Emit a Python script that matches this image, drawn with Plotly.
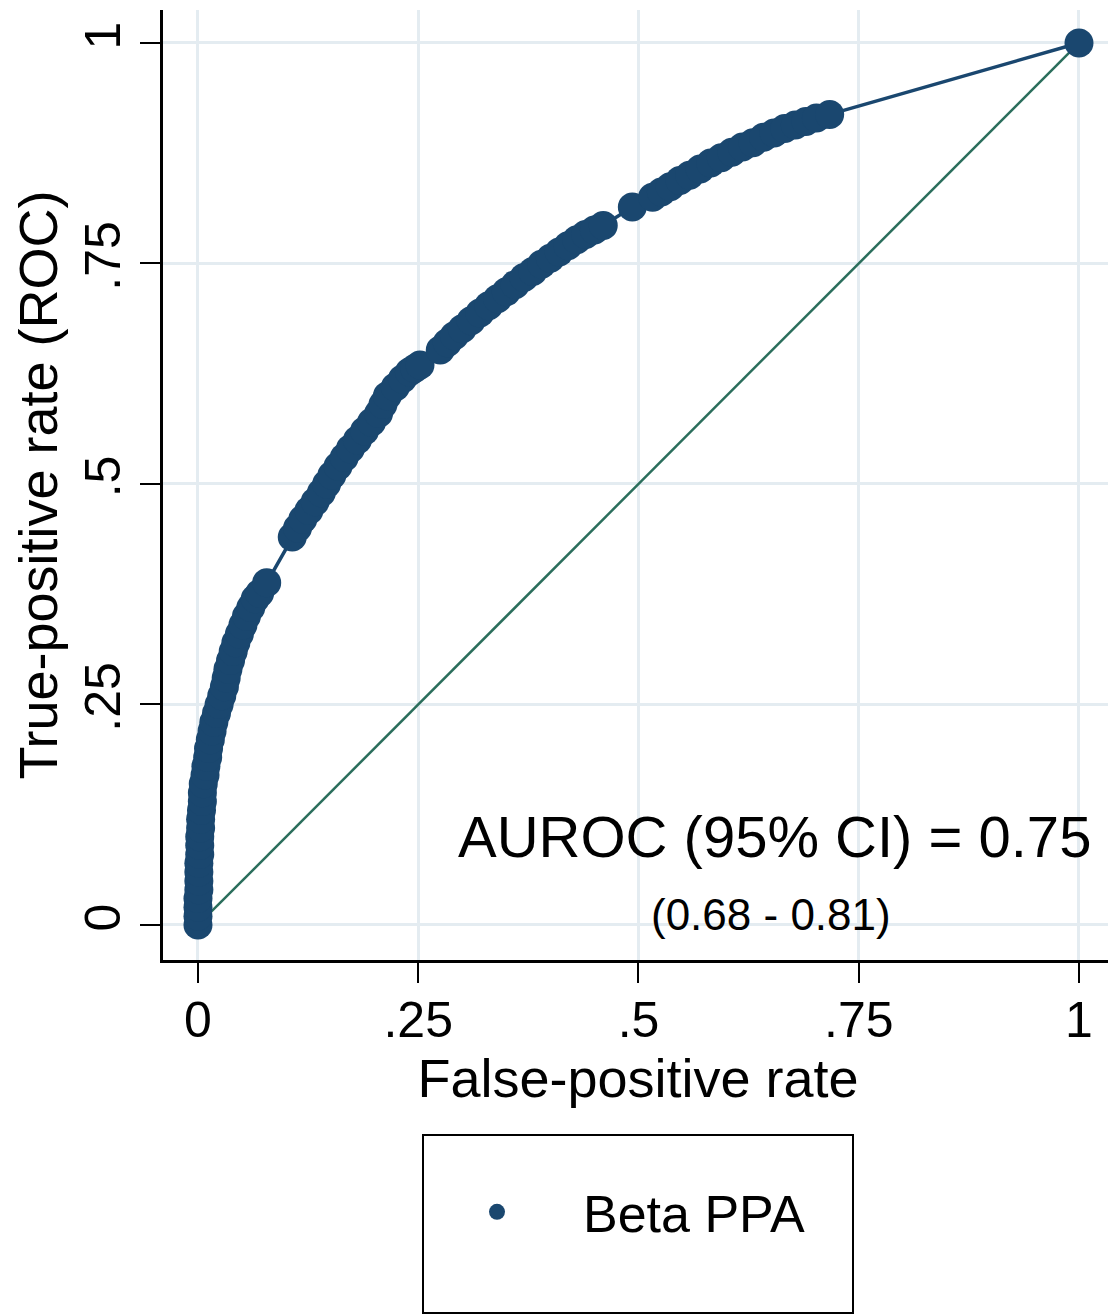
import plotly.graph_objects as go

# ROC points (false-positive rate, true-positive rate)
fpr = [0, 0, 0, 0, .001, .001, .001, .001, .002, .002, .002, .003, .003, .004, .005, .005,
       .006, .008, .009, .011, .012, .014, .016, .018, .021, .024, .027, .030, .032, .034,
       .037, .040, .043, .047, .051, .055, .060, .065, .070, .078,
       .107, .113, .119, .126, .133, .140, .146, .152, .159, .166, .173, .181, .189, .197,
       .205, .210, .215, .224, .232, .240, .246, .252,
       .275, .283, .291, .300, .310, .320, .330, .340, .350, .360, .370, .380, .390, .400,
       .410, .420, .430, .440, .450, .460,
       .493,
       .516, .526, .536, .547, .558, .570, .582, .594, .606, .618, .630, .642, .654, .666,
       .678, .690, .702, .717,
       1.0]
tpr = [0, .01, .02, .03, .04, .05, .06, .07, .08, .09, .10, .11, .12, .13, .14, .15,
       .16, .17, .18, .19, .20, .21, .22, .23, .24, .25, .26, .27, .28, .29,
       .30, .31, .32, .33, .34, .35, .36, .37, .376, .388,
       .440, .450, .460, .470, .480, .490, .500, .510, .520, .530, .540, .550, .560, .570,
       .580, .590, .600, .610, .619, .627, .631, .635,
       .652, .660, .668, .676, .685, .694, .702, .710, .718, .726, .734, .741, .749, .756,
       .763, .770, .777, .783, .788, .793,
       .814,
       .825, .831, .837, .844, .850, .857, .864, .870, .876, .882, .887, .893, .898, .903,
       .907, .911, .915, .919,
       1.0]

ref_x = [0, 1]
ref_y = [0, 1]

tick_vals = [0, 0.25, 0.5, 0.75, 1]
tick_text = ["0", ".25", ".5", ".75", "1"]

series_name = "Beta PPA"
auroc_text = "AUROC (95% CI) = 0.75"
ci_text = "(0.68 - 0.81)"

NAVY = "#1a476f"
GREEN = "#2b6e5c"
GRID = "#e4ecf1"
FONT = "Liberation Sans, Arial, Helvetica, sans-serif"

fig = go.Figure()

fig.add_trace(go.Scatter(x=ref_x, y=ref_y, mode="lines",
                         line=dict(color=GREEN, width=2.5), showlegend=False,
                         hoverinfo="skip"))
fig.add_trace(go.Scatter(x=fpr, y=tpr, mode="lines",
                         line=dict(color=NAVY, width=3.5), showlegend=False,
                         hoverinfo="skip"))
fig.add_trace(go.Scatter(x=fpr, y=tpr, mode="markers", name=series_name,
                         marker=dict(color=NAVY, size=29, line=dict(width=0)),
                         showlegend=True))

fig.add_annotation(x=0.654, y=0.100, xref="x", yref="y", text=auroc_text,
                   showarrow=False, font=dict(family=FONT, size=58, color="black"),
                   xanchor="center", yanchor="middle")
fig.add_annotation(x=0.650, y=0.012, xref="x", yref="y", text=ci_text,
                   showarrow=False, font=dict(family=FONT, size=44, color="black"),
                   xanchor="center", yanchor="middle")

# legend frame (paper coords: plot area is 950x950 px)
fig.add_shape(type="rect", xref="paper", yref="paper",
              x0=(423 - 163) / 950, x1=(853 - 163) / 950,
              y0=(960 - 1313) / 950, y1=(960 - 1135) / 950,
              line=dict(color="black", width=2), fillcolor="rgba(0,0,0,0)")

axis_common = dict(
    tickmode="array", tickvals=tick_vals, ticktext=tick_text,
    showgrid=True, gridcolor=GRID, gridwidth=3,
    zeroline=False, showline=True, linecolor="black", linewidth=2.5,
    ticks="outside", ticklen=20, tickwidth=2, tickcolor="black",
    tickfont=dict(family=FONT, size=50, color="black"),
    automargin=False,
)

fig.update_layout(
    width=1116, height=1316,
    margin=dict(l=155, r=11, t=2, b=364),
    plot_bgcolor="white", paper_bgcolor="white",
    font=dict(family=FONT, color="black"),
    xaxis=dict(range=[-0.0397, 1.0386], ticklabelstandoff=-6,
               title=dict(text="False-positive rate", font=dict(family=FONT, size=54),
                          standoff=0),
               **axis_common),
    yaxis=dict(range=[-0.0397, 1.0374], tickangle=-90,
               title=dict(text="True-positive rate (ROC)", font=dict(family=FONT, size=54),
                          standoff=8),
               **axis_common),
    legend=dict(x=(411 - 163) / 950, y=(960 - 1212) / 950, xanchor="left", yanchor="middle",
                xref="paper", yref="paper", bgcolor="rgba(0,0,0,0)", borderwidth=0,
                font=dict(family=FONT, size=52, color="black"), itemwidth=162),
    showlegend=True,
)

fig.write_html("out.html")
